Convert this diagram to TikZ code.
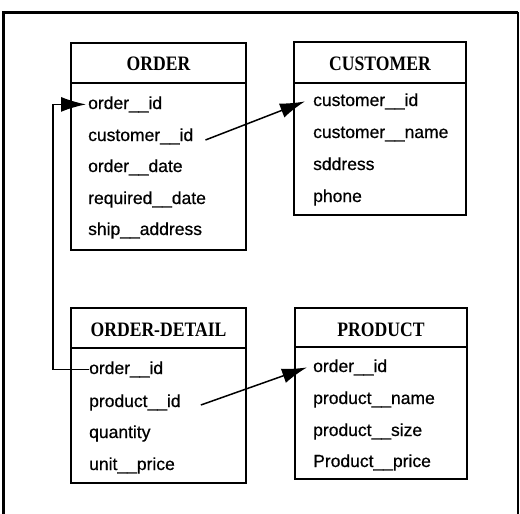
\documentclass[tikz,border=0pt]{standalone}
\usepackage{fontspec}
\usepackage{tikz}
\usetikzlibrary{arrows.meta}
\setmainfont[FakeBold=0.6]{Liberation Sans}
\newfontfamily\hdfont[FakeStretch=0.86]{Liberation Serif}

\begin{document}
\begin{tikzpicture}[x=1pt,y=-1pt,
	tbl/.style={draw=black,line width=2.4pt},
	hdr/.style={anchor=base,inner sep=0pt,font=\hdfont\bfseries\fontsize{20.5}{20.5}\selectfont},
	col/.style={anchor=base west,inner sep=0pt,font=\fontsize{17.5}{17.5}\selectfont},
	fk/.style={line width=1.5pt,-{Latex[length=25pt,width=15pt]}}]
	\useasboundingbox (0,0) rectangle (520,514);
	% frame
	\draw[line width=3pt] (3,514) -- (3,12) -- (518,12);
	\draw[line width=1.8pt] (518,12) -- (518,514);
	% ORDER
	\draw[tbl] (71,43) rectangle (246,250);
	\draw[tbl] (71,83) -- (246,83);
	\node[hdr] (o) at (158.5,70) {ORDER};
	\node[col] (o-oid) at (88,109) {order\_\_id};
	\node[col] (o-cid) at (88,141) {customer\_\_id};
	\node[col] (o-odate) at (88,172) {order\_\_date};
	\node[col] (o-rdate) at (88,204) {required\_\_date};
	\node[col] (o-addr) at (88,235) {ship\_\_address};
	% CUSTOMER
	\draw[tbl] (294,42) rectangle (466,215);
	\draw[tbl] (294,83) -- (466,83);
	\node[hdr] (c) at (380,70) {CUSTOMER};
	\node[col] (c-cid) at (313,106) {customer\_\_id};
	\node[col] (c-name) at (313,138) {customer\_\_name};
	\node[col] (c-addr) at (313,170) {sddress};
	\node[col] (c-phone) at (313,202) {phone};
	% ORDER-DETAIL
	\draw[tbl] (71,308) rectangle (246,483);
	\draw[tbl] (71,348) -- (246,348);
	\node[hdr] (d) at (158.5,336) {ORDER-DETAIL};
	\node[col] (d-oid) at (89,374) {order\_\_id};
	\node[col] (d-pid) at (89,407) {product\_\_id};
	\node[col] (d-qty) at (89,438) {quantity};
	\node[col] (d-price) at (89,470) {unit\_\_price};
	% PRODUCT
	\draw[tbl] (295,308) rectangle (467,479);
	\draw[tbl] (295,347) -- (467,347);
	\node[hdr] (p) at (381,336) {PRODUCT};
	\node[col] (p-oid) at (313,372) {order\_\_id};
	\node[col] (p-name) at (313,404) {product\_\_name};
	\node[col] (p-size) at (313,436) {product\_\_size};
	\node[col] (p-price) at (313,467) {Product\_\_price};
	% keys
	\draw[fk] (d-oid.west) -- ++(-36,0) |- ([xshift=-2pt]o-oid.west);
	\draw[fk] ([xshift=12pt,yshift=1pt]o-cid.base east) -- ([xshift=-8pt]c-cid.west);
	\draw[fk] ([xshift=20pt,yshift=2pt]d-pid.base east) -- ([xshift=-6pt]p-oid.west);
\end{tikzpicture}
\end{document}
